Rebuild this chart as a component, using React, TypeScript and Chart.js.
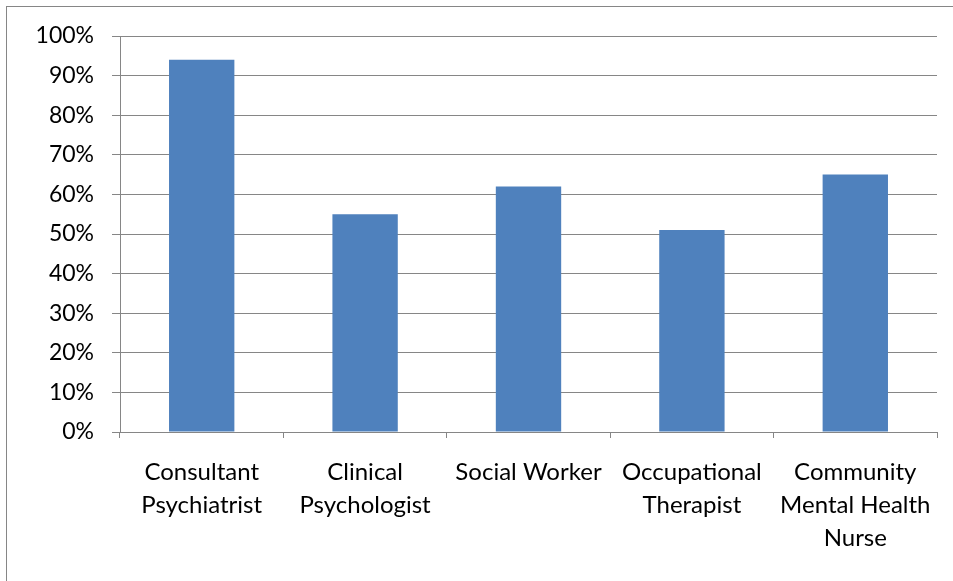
import React, { useEffect, useRef } from "react";
import { Chart, registerables } from "chart.js";

Chart.register(...registerables);

const categories: string[][] = [
  ["Consultant", "Psychiatrist"],
  ["Clinical", "Psychologist"],
  ["Social Worker"],
  ["Occupational", "Therapist"],
  ["Community", "Mental Health", "Nurse"],
];
const values: number[] = [94, 55, 62, 51, 65];
const yTicks = { min: 0, max: 100, step: 10 };

const FONT = "Lato, 'Open Sans', sans-serif";

const borderPlugin = {
  id: "outerBorder",
  beforeDraw(chart: any) {
    const ctx = chart.ctx;
    ctx.save();
    ctx.fillStyle = "#ffffff";
    ctx.fillRect(0, 0, chart.width, chart.height);
    ctx.strokeStyle = "#868686";
    ctx.lineWidth = 1;
    ctx.strokeRect(6.5, 6.5, chart.width + 10, chart.height + 10);
    ctx.restore();
  },
};

export default function App() {
  const ref = useRef<HTMLCanvasElement>(null);
  useEffect(() => {
    document.body.style.margin = "0";
    const chart = new Chart(ref.current!, {
      type: "bar",
      data: {
        labels: categories,
        datasets: [
          {
            data: values,
            backgroundColor: "#4F81BD",
            borderWidth: 0,
            categoryPercentage: 0.4,
            barPercentage: 1,
          },
        ],
      },
      options: {
        animation: false,
        responsive: false,
        maintainAspectRatio: false,
        layout: { padding: { top: 36, right: 16, left: 0, bottom: 0 } },
        plugins: { legend: { display: false }, tooltip: { enabled: false } },
        scales: {
          x: {
            afterFit(scale: any) {
              scale.height = 149;
            },
            grid: {
              offset: true,
              drawOnChartArea: false,
              drawTicks: true,
              tickLength: 6,
              color: "#868686",
            },
            border: { display: true, color: "#868686", width: 1 },
            ticks: {
              color: "#000000",
              font: { family: FONT, size: 24, lineHeight: 1.375 },
              padding: 18,
              maxRotation: 0,
              autoSkip: false,
            },
          },
          y: {
            min: yTicks.min,
            max: yTicks.max,
            afterFit(scale: any) {
              scale.width = 120;
            },
            grid: { color: "#868686", tickLength: 8 },
            border: { display: true, color: "#868686", width: 1 },
            ticks: {
              stepSize: yTicks.step,
              color: "#000000",
              font: { family: FONT, size: 23 },
              padding: 18,
              callback: (v: any) => v + "%",
            },
          },
        },
      },
      plugins: [borderPlugin],
    });
    return () => chart.destroy();
  }, []);
  return (
    <div style={{ position: "absolute", left: 0, top: 0, width: 953, height: 581 }}>
      <canvas ref={ref} width={953} height={581} />
    </div>
  );
}
